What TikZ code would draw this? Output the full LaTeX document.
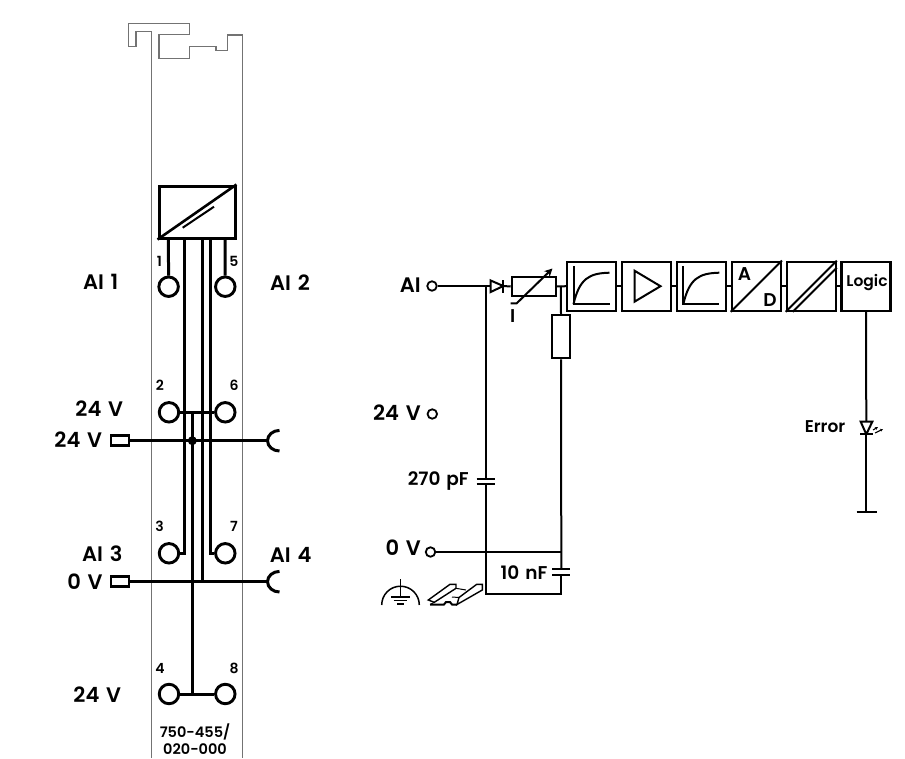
\documentclass[tikz,border=0pt]{standalone}
\usepackage{fontspec}
\setmainfont{Poppins}[WordSpace=1.35,BoldFont={Poppins SemiBold}]
\usetikzlibrary{arrows.meta}
\tikzset{
  wire/.style={line width=2pt},
  thick wire/.style={line width=3pt},
  housing/.style={line width=1.2pt,draw=black!55},
  pin/.style={circle,draw,line width=2.9pt,minimum size=19.5pt,inner sep=0pt},
  port/.style={circle,draw,line width=1.8pt,minimum size=9.5pt,inner sep=0pt},
  stub/.style={draw,line width=2.6pt,minimum width=18pt,minimum height=10pt,inner sep=0pt},
  fn/.style={draw,line width=2.2pt,minimum size=49pt,inner sep=0pt},
  res/.style={draw,line width=2pt,inner sep=0pt},
  lab/.style={font=\fontsize{21}{21}\selectfont\bfseries,inner sep=0pt},
  num/.style={font=\fontsize{14}{14}\selectfont\bfseries,inner sep=0pt},
  small/.style={font=\fontsize{18.5}{18.5}\selectfont\bfseries,inner sep=0pt},
  tiny/.style={font=\fontsize{14.5}{14.5}\selectfont\bfseries,inner sep=0pt}
}
\begin{document}
\begin{tikzpicture}[x=1pt,y=-1pt,line join=miter]
\useasboundingbox (0,0) rectangle (905,758);
% housing
\draw[housing] (151.7,758)--(151.7,31.5)--(136,31.5)--(136,46.7)--(128.3,46.7)--(128.3,23.7)--(189.7,23.7)--(189.7,34.7)--(159,34.7)--(159,58.3)--(189.7,58.3)--(189.7,46.7)--(216,46.7)--(216,50.7)--(227.7,50.7)--(227.7,35)--(242.7,35)--(242.7,758);
% converter
\node[draw,line width=3pt,minimum width=76pt,minimum height=52pt,inner sep=0pt] (conv) at (197,212) {};
\draw[line width=2.6pt] (conv.south west)--(conv.north east);
\draw[line width=2pt] (182.7,227.7)--(214,206.7);
% pins
\node[pin] (p1) at (168.6,286.7) {};
\node[pin] (p5) at (225.3,286.7) {};
\node[pin] (p2) at (169,412.3) {};
\node[pin] (p6) at (225.3,412.3) {};
\node[pin] (p3) at (169,553.3) {};
\node[pin] (p7) at (225.3,553.3) {};
\node[pin] (p4) at (169,694) {};
\node[pin] (p8) at (225.3,694) {};
\node[num] at (159.5,261.7) {1};
\node[num] at (234,261.7) {5};
\node[num] at (160,385.7) {2};
\node[num] at (234,385.7) {6};
\node[num] at (159.5,526.7) {3};
\node[num] at (234,526.7) {7};
\node[num] at (160,668.3) {4};
\node[num] at (234,668.3) {8};
% feed contacts
\node[stub] (sa) at (120,440.7) {};
\node[stub] (sb) at (120,581.7) {};
\coordinate (ca) at (267.5,440.7);
\coordinate (cb) at (267.5,581.7);
\draw[thick wire] (279.5,430.4) arc[start angle=270,end angle=90,x radius=12,y radius=10.3];
\draw[thick wire] (279.5,571.4) arc[start angle=270,end angle=90,x radius=12,y radius=10.3];
\draw[thick wire] (sa)--(ca);
\draw[thick wire] (sb)--(cb);
% wires
\draw[thick wire] (168.4,239)--(p1);
\draw[thick wire] (225,239)--(p5);
\draw[thick wire] (184,239)--(184,553.3)--(p3);
\draw[thick wire] (202.3,239)--(202.3,581.7);
\draw[thick wire] (210.7,239)--(210.7,553.3)--(p7);
\draw[thick wire] (p2)--(p6);
\draw[thick wire] (p4)--(p8);
\draw[thick wire] (192.3,412.3)--(192.3,694);
\fill (192.3,440.7) circle(4.5pt);
% labels left
\node[lab] at (100.7,282) {AI 1};
\node[lab] at (290,283) {AI 2};
\node[lab] at (99.3,408.3) {24 V};
\node[lab] at (78.3,440) {24 V};
\node[lab] at (102.3,553.3) {AI 3};
\node[lab] at (290.7,555) {AI 4};
\node[lab] at (85,581.7) {0 V};
\node[lab] at (97.3,695) {24 V};
\node[tiny] at (195,731.7) {750-455/};
\node[tiny] at (195,749) {020-000};
% input side
\node[lab,anchor=east] at (421,285) {AI};
\node[lab,anchor=east] at (421,413) {24 V};
\node[lab,anchor=east] at (421,548) {0 V};
\node[port] (inai) at (432,286) {};
\node[port] (inv) at (432.3,414) {};
\node[port] (ingnd) at (430.5,552) {};
\node[res,minimum width=44pt,minimum height=18.5pt] (rv) at (533.7,286.5) {};
\node[res,minimum width=18.5pt,minimum height=43.5pt] (rs) at (561,336.5) {};
\coordinate (dA) at (490.7,286);
\coordinate (dB) at (503.3,286);
\draw[wire] (inai)--(dA);
\draw[wire] (dB)--(rv.west);
\draw[wire] (490.7,280.5)--(490.7,292)--(503.3,286)--cycle;
\draw[wire] (503.3,280)--(503.3,292.7);
\draw[wire,-{Stealth[length=8pt,width=8pt]}] (510.7,303.3)--(516.7,303.3)--(552.5,268.5);
\node[small] at (512.7,316) {I};
% function blocks
\node[fn] (b1) at (591.5,286.2) {};
\node[fn] (b2) at (646.5,286.2) {};
\node[fn] (b3) at (701.3,286.2) {};
\node[fn] (b4) at (756.3,286.2) {};
\node[fn] (b5) at (811.2,286.2) {};
\node[fn] (b6) at (866,286.2) {};
\draw[wire] (rv.east)--(b1.west);
\foreach \a/\b in {b1/b2,b2/b3,b3/b4,b4/b5,b5/b6} \draw[wire] (\a)--(\b);
\foreach \a in {b1,b3} {
  \draw[wire] ([shift={(-18,-20)}]\a.center)--([shift={(-18,18)}]\a.center)--([shift={(18,18)}]\a.center);
  \draw[wire] ([shift={(-18,18)}]\a.center) .. controls ([shift={(-12,-8)}]\a.center) and ([shift={(-2,-13)}]\a.center) .. ([shift={(18,-13.5)}]\a.center);
}
\draw[wire] ([shift={(-12,-15.5)}]b2.center)--([shift={(-12,15.5)}]b2.center)--([shift={(14,0)}]b2.center)--cycle;
\draw[line width=2pt] (b4.south west)--(b4.north east);
\node[small] at (744.5,274) {A};
\node[small] at (770,300) {D};
\draw[line width=2pt] (b5.south west)--(b5.north east);
\draw[line width=2pt] ([shift={(7,0)}]b5.south west)--([shift={(0,7)}]b5.north east);
\node[font=\fontsize{15.5}{15.5}\selectfont\bfseries,inner sep=0pt] at (867,283) {Logic};
% shunt and capacitors
\coordinate (tA) at (560.8,286);
\coordinate (nA) at (485.7,286);
\coordinate (cA) at (485.7,479);
\coordinate (cB) at (485.7,484.4);
\coordinate (gA) at (485.7,594);
\coordinate (gB) at (561.3,594);
\coordinate (nB) at (561.3,552);
\coordinate (cC) at (561.3,569.3);
\coordinate (cD) at (561.3,575);
\draw[wire] (tA)--(rs.north);
\draw[wire] (rs.south)--(nB)--(cC);
\draw[wire] (cD)--(gB)--(gA)--(cB);
\draw[wire] (cA)--(nA);
\draw[wire] (ingnd)--(nB);
\draw[wire] ([xshift=-9pt]cA)--([xshift=9pt]cA);
\draw[wire] ([xshift=-9pt]cB)--([xshift=9pt]cB);
\draw[wire] ([xshift=-9pt]cC)--([xshift=9pt]cC);
\draw[wire] ([xshift=-9pt]cD)--([xshift=9pt]cD);
\node[small] at (438.3,480.7) {270 pF};
\node[small] at (524,572.3) {10 nF};
% earth
\draw[line width=1.5pt] (381.7,605) arc[start angle=180,end angle=360,radius=18.8];
\draw[line width=1.5pt] (400.5,579)--(400.5,597);
\draw[line width=1.5pt] (391,597)--(410,597);
\draw[line width=1.5pt] (393.5,600.7)--(407,600.7);
\draw[line width=1.5pt] (397,604)--(404,604);
% rail
\draw[line width=1.4pt] (428.3,600)--(450,584.3)--(456,584.3)--(456,588.3)--(434.3,602.3)--cycle;
\draw[line width=2pt] (430,604.5)--(444,604.5)--(446,602)--(450,602)--(452,604.5)--(457,604.5);
\draw[line width=1.4pt] (457,604.5)--(459,597.5)--(476.7,584.3)--(482.3,584.3)--(482.3,590)--cycle;
\draw[line width=1pt] (434.3,602.3)--(430,604.5) (456,588.3)--(466,590) (459,597.5)--(452,597);
% error branch
\coordinate (ledA) at (866.3,421.7);
\coordinate (ledB) at (866.3,434.3);
\coordinate (endE) at (866.3,511.7);
\draw[wire] (b6.south)--(ledA);
\draw[wire] (ledB)--(endE);
\draw[wire] (860.7,421.7)--(872.3,421.7)--(866.3,434.3)--cycle;
\draw[wire] (860,434.3)--(872.7,434.3);
\draw[wire] (856.7,511.7)--(876.7,511.7);
\draw[line width=1.1pt,-{Stealth[length=3pt,width=3pt]}] (873,430)--(878,427);
\draw[line width=1.1pt,-{Stealth[length=3pt,width=3pt]}] (875,433)--(883,429);
\node[font=\fontsize{17}{17}\selectfont\bfseries,inner sep=0pt] at (825,426.7) {Error};
\end{tikzpicture}
\end{document}
